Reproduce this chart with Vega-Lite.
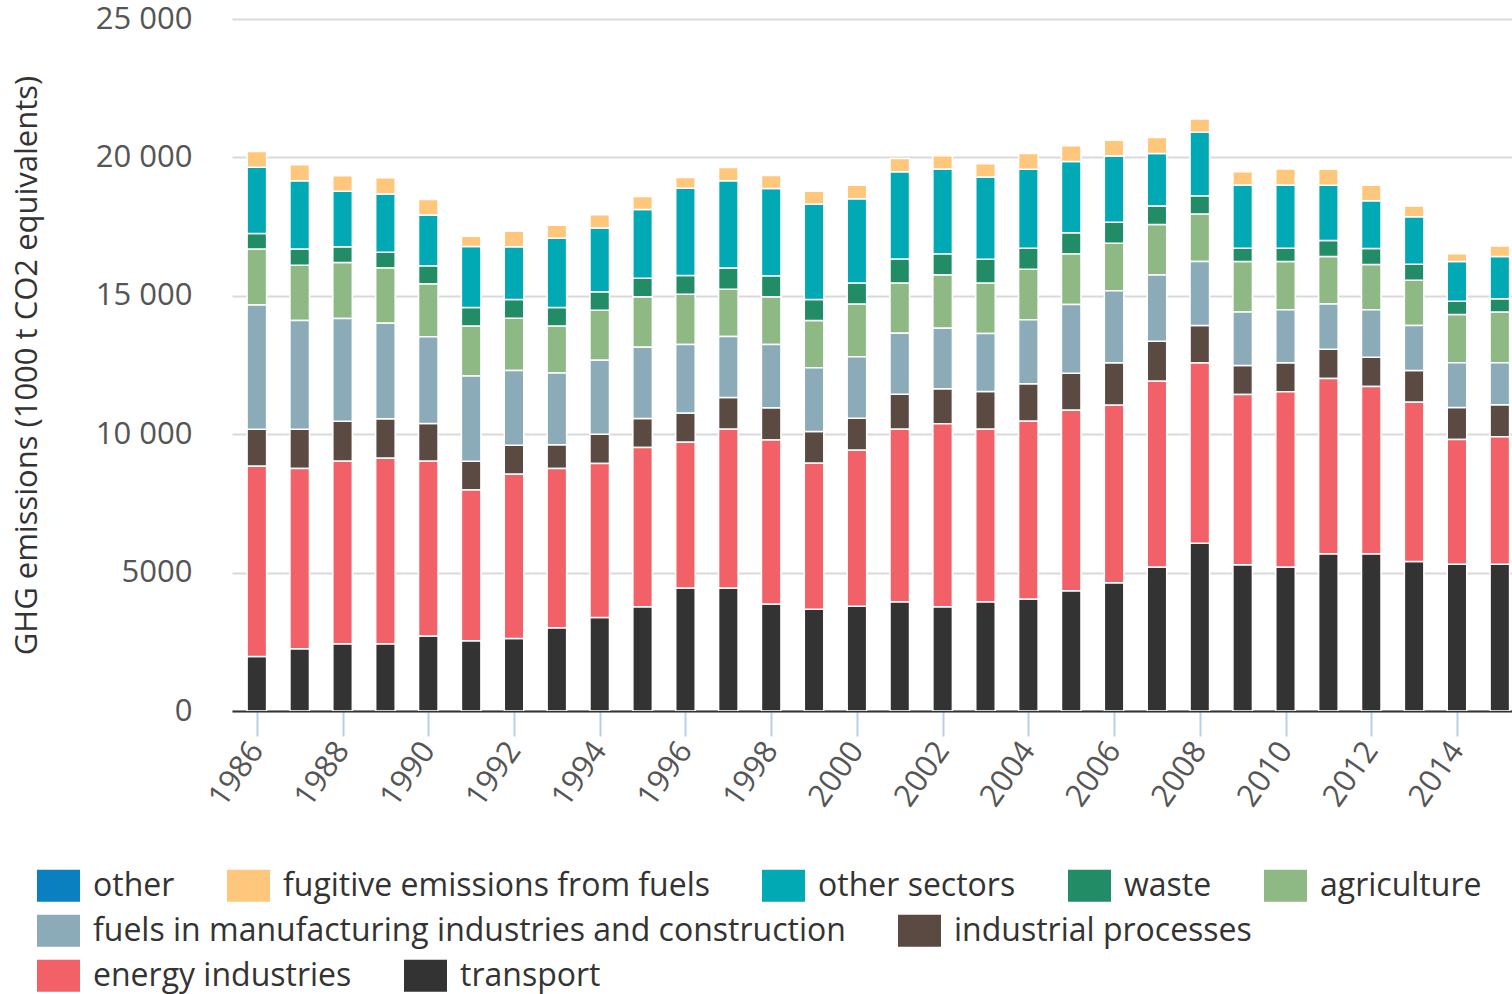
{
"$schema": "https://vega.github.io/schema/vega-lite/v6.json",
"width": 1280,
"height": 692,
"autosize": {"type": "none"},
"padding": {"left": 232, "top": 19, "right": 0, "bottom": 283},
"config": {
  "font": "Open Sans",
  "view": {"stroke": null},
  "legend": {
    "labelFont": "Open Sans", "labelFontSize": 32, "labelColor": "#333333", "labelLimit": 1000,
    "symbolType": "M-1,-0.74L1,-0.74L1,0.74L-1,0.74Z", "symbolSize": 1849, "symbolStrokeWidth": 0, "symbolOpacity": 1,
    "labelOffset": 13, "columnPadding": 52, "direction": "horizontal", "orient": "none", "padding": 0
  }
},
"data": {"values": [
{"year":1986,"sector":"transport","value":1970},{"year":1986,"sector":"energy industries","value":6870},{"year":1986,"sector":"industrial processes","value":1340},{"year":1986,"sector":"fuels in manufacturing industries and construction","value":4490},{"year":1986,"sector":"agriculture","value":2020},{"year":1986,"sector":"waste","value":560},{"year":1986,"sector":"other sectors","value":2390},{"year":1986,"sector":"fugitive emissions from fuels","value":570},
{"year":1987,"sector":"transport","value":2250},{"year":1987,"sector":"energy industries","value":6510},{"year":1987,"sector":"industrial processes","value":1420},{"year":1987,"sector":"fuels in manufacturing industries and construction","value":3930},{"year":1987,"sector":"agriculture","value":1990},{"year":1987,"sector":"waste","value":590},{"year":1987,"sector":"other sectors","value":2470},{"year":1987,"sector":"fugitive emissions from fuels","value":575},
{"year":1988,"sector":"transport","value":2430},{"year":1988,"sector":"energy industries","value":6590},{"year":1988,"sector":"industrial processes","value":1445},{"year":1988,"sector":"fuels in manufacturing industries and construction","value":3715},{"year":1988,"sector":"agriculture","value":2020},{"year":1988,"sector":"waste","value":575},{"year":1988,"sector":"other sectors","value":2005},{"year":1988,"sector":"fugitive emissions from fuels","value":560},
{"year":1989,"sector":"transport","value":2430},{"year":1989,"sector":"energy industries","value":6700},{"year":1989,"sector":"industrial processes","value":1430},{"year":1989,"sector":"fuels in manufacturing industries and construction","value":3450},{"year":1989,"sector":"agriculture","value":2005},{"year":1989,"sector":"waste","value":560},{"year":1989,"sector":"other sectors","value":2100},{"year":1989,"sector":"fugitive emissions from fuels","value":590},
{"year":1990,"sector":"transport","value":2710},{"year":1990,"sector":"energy industries","value":6310},{"year":1990,"sector":"industrial processes","value":1365},{"year":1990,"sector":"fuels in manufacturing industries and construction","value":3140},{"year":1990,"sector":"agriculture","value":1910},{"year":1990,"sector":"waste","value":655},{"year":1990,"sector":"other sectors","value":1830},{"year":1990,"sector":"fugitive emissions from fuels","value":560},
{"year":1991,"sector":"transport","value":2540},{"year":1991,"sector":"energy industries","value":5440},{"year":1991,"sector":"industrial processes","value":1045},{"year":1991,"sector":"fuels in manufacturing industries and construction","value":3075},{"year":1991,"sector":"agriculture","value":1805},{"year":1991,"sector":"waste","value":670},{"year":1991,"sector":"other sectors","value":2205},{"year":1991,"sector":"fugitive emissions from fuels","value":375},
{"year":1992,"sector":"transport","value":2620},{"year":1992,"sector":"energy industries","value":5935},{"year":1992,"sector":"industrial processes","value":1045},{"year":1992,"sector":"fuels in manufacturing industries and construction","value":2700},{"year":1992,"sector":"agriculture","value":1885},{"year":1992,"sector":"waste","value":680},{"year":1992,"sector":"other sectors","value":1910},{"year":1992,"sector":"fugitive emissions from fuels","value":560},
{"year":1993,"sector":"transport","value":3010},{"year":1993,"sector":"energy industries","value":5750},{"year":1993,"sector":"industrial processes","value":855},{"year":1993,"sector":"fuels in manufacturing industries and construction","value":2595},{"year":1993,"sector":"agriculture","value":1700},{"year":1993,"sector":"waste","value":670},{"year":1993,"sector":"other sectors","value":2500},{"year":1993,"sector":"fugitive emissions from fuels","value":470},
{"year":1994,"sector":"transport","value":3380},{"year":1994,"sector":"energy industries","value":5560},{"year":1994,"sector":"industrial processes","value":1055},{"year":1994,"sector":"fuels in manufacturing industries and construction","value":2675},{"year":1994,"sector":"agriculture","value":1805},{"year":1994,"sector":"waste","value":670},{"year":1994,"sector":"other sectors","value":2300},{"year":1994,"sector":"fugitive emissions from fuels","value":480},
{"year":1995,"sector":"transport","value":3770},{"year":1995,"sector":"energy industries","value":5750},{"year":1995,"sector":"industrial processes","value":1045},{"year":1995,"sector":"fuels in manufacturing industries and construction","value":2580},{"year":1995,"sector":"agriculture","value":1820},{"year":1995,"sector":"waste","value":670},{"year":1995,"sector":"other sectors","value":2485},{"year":1995,"sector":"fugitive emissions from fuels","value":470},
{"year":1996,"sector":"transport","value":4440},{"year":1996,"sector":"energy industries","value":5270},{"year":1996,"sector":"industrial processes","value":1055},{"year":1996,"sector":"fuels in manufacturing industries and construction","value":2475},{"year":1996,"sector":"agriculture","value":1820},{"year":1996,"sector":"waste","value":670},{"year":1996,"sector":"other sectors","value":3155},{"year":1996,"sector":"fugitive emissions from fuels","value":390},
{"year":1997,"sector":"transport","value":4440},{"year":1997,"sector":"energy industries","value":5735},{"year":1997,"sector":"industrial processes","value":1150},{"year":1997,"sector":"fuels in manufacturing industries and construction","value":2205},{"year":1997,"sector":"agriculture","value":1710},{"year":1997,"sector":"waste","value":760},{"year":1997,"sector":"other sectors","value":3155},{"year":1997,"sector":"fugitive emissions from fuels","value":480},
{"year":1998,"sector":"transport","value":3865},{"year":1998,"sector":"energy industries","value":5925},{"year":1998,"sector":"industrial processes","value":1165},{"year":1998,"sector":"fuels in manufacturing industries and construction","value":2285},{"year":1998,"sector":"agriculture","value":1725},{"year":1998,"sector":"waste","value":760},{"year":1998,"sector":"other sectors","value":3155},{"year":1998,"sector":"fugitive emissions from fuels","value":470},
{"year":1999,"sector":"transport","value":3680},{"year":1999,"sector":"energy industries","value":5270},{"year":1999,"sector":"industrial processes","value":1150},{"year":1999,"sector":"fuels in manufacturing industries and construction","value":2300},{"year":1999,"sector":"agriculture","value":1710},{"year":1999,"sector":"waste","value":760},{"year":1999,"sector":"other sectors","value":3435},{"year":1999,"sector":"fugitive emissions from fuels","value":470},
{"year":2000,"sector":"transport","value":3780},{"year":2000,"sector":"energy industries","value":5640},{"year":2000,"sector":"industrial processes","value":1155},{"year":2000,"sector":"fuels in manufacturing industries and construction","value":2225},{"year":2000,"sector":"agriculture","value":1905},{"year":2000,"sector":"waste","value":760},{"year":2000,"sector":"other sectors","value":3045},{"year":2000,"sector":"fugitive emissions from fuels","value":480},
{"year":2001,"sector":"transport","value":3945},{"year":2001,"sector":"energy industries","value":6230},{"year":2001,"sector":"industrial processes","value":1270},{"year":2001,"sector":"fuels in manufacturing industries and construction","value":2200},{"year":2001,"sector":"agriculture","value":1820},{"year":2001,"sector":"waste","value":860},{"year":2001,"sector":"other sectors","value":3155},{"year":2001,"sector":"fugitive emissions from fuels","value":480},
{"year":2002,"sector":"transport","value":3765},{"year":2002,"sector":"energy industries","value":6610},{"year":2002,"sector":"industrial processes","value":1270},{"year":2002,"sector":"fuels in manufacturing industries and construction","value":2185},{"year":2002,"sector":"agriculture","value":1930},{"year":2002,"sector":"waste","value":760},{"year":2002,"sector":"other sectors","value":3060},{"year":2002,"sector":"fugitive emissions from fuels","value":480},
{"year":2003,"sector":"transport","value":3945},{"year":2003,"sector":"energy industries","value":6230},{"year":2003,"sector":"industrial processes","value":1365},{"year":2003,"sector":"fuels in manufacturing industries and construction","value":2100},{"year":2003,"sector":"agriculture","value":1820},{"year":2003,"sector":"waste","value":860},{"year":2003,"sector":"other sectors","value":2975},{"year":2003,"sector":"fugitive emissions from fuels","value":480},
{"year":2004,"sector":"transport","value":4045},{"year":2004,"sector":"energy industries","value":6425},{"year":2004,"sector":"industrial processes","value":1355},{"year":2004,"sector":"fuels in manufacturing industries and construction","value":2310},{"year":2004,"sector":"agriculture","value":1820},{"year":2004,"sector":"waste","value":760},{"year":2004,"sector":"other sectors","value":2860},{"year":2004,"sector":"fugitive emissions from fuels","value":565},
{"year":2005,"sector":"transport","value":4340},{"year":2005,"sector":"energy industries","value":6525},{"year":2005,"sector":"industrial processes","value":1340},{"year":2005,"sector":"fuels in manufacturing industries and construction","value":2480},{"year":2005,"sector":"agriculture","value":1830},{"year":2005,"sector":"waste","value":760},{"year":2005,"sector":"other sectors","value":2580},{"year":2005,"sector":"fugitive emissions from fuels","value":565},
{"year":2006,"sector":"transport","value":4635},{"year":2006,"sector":"energy industries","value":6415},{"year":2006,"sector":"industrial processes","value":1535},{"year":2006,"sector":"fuels in manufacturing industries and construction","value":2595},{"year":2006,"sector":"agriculture","value":1720},{"year":2006,"sector":"waste","value":760},{"year":2006,"sector":"other sectors","value":2395},{"year":2006,"sector":"fugitive emissions from fuels","value":565},
{"year":2007,"sector":"transport","value":5200},{"year":2007,"sector":"energy industries","value":6710},{"year":2007,"sector":"industrial processes","value":1450},{"year":2007,"sector":"fuels in manufacturing industries and construction","value":2395},{"year":2007,"sector":"agriculture","value":1820},{"year":2007,"sector":"waste","value":665},{"year":2007,"sector":"other sectors","value":1900},{"year":2007,"sector":"fugitive emissions from fuels","value":580},
{"year":2008,"sector":"transport","value":6060},{"year":2008,"sector":"energy industries","value":6510},{"year":2008,"sector":"industrial processes","value":1355},{"year":2008,"sector":"fuels in manufacturing industries and construction","value":2310},{"year":2008,"sector":"agriculture","value":1720},{"year":2008,"sector":"waste","value":660},{"year":2008,"sector":"other sectors","value":2295},{"year":2008,"sector":"fugitive emissions from fuels","value":480},
{"year":2009,"sector":"transport","value":5285},{"year":2009,"sector":"energy industries","value":6145},{"year":2009,"sector":"industrial processes","value":1055},{"year":2009,"sector":"fuels in manufacturing industries and construction","value":1930},{"year":2009,"sector":"agriculture","value":1820},{"year":2009,"sector":"waste","value":480},{"year":2009,"sector":"other sectors","value":2285},{"year":2009,"sector":"fugitive emissions from fuels","value":480},
{"year":2010,"sector":"transport","value":5200},{"year":2010,"sector":"energy industries","value":6330},{"year":2010,"sector":"industrial processes","value":1055},{"year":2010,"sector":"fuels in manufacturing industries and construction","value":1915},{"year":2010,"sector":"agriculture","value":1735},{"year":2010,"sector":"waste","value":480},{"year":2010,"sector":"other sectors","value":2285},{"year":2010,"sector":"fugitive emissions from fuels","value":580},
{"year":2011,"sector":"transport","value":5680},{"year":2011,"sector":"energy industries","value":6330},{"year":2011,"sector":"industrial processes","value":1055},{"year":2011,"sector":"fuels in manufacturing industries and construction","value":1635},{"year":2011,"sector":"agriculture","value":1720},{"year":2011,"sector":"waste","value":575},{"year":2011,"sector":"other sectors","value":2000},{"year":2011,"sector":"fugitive emissions from fuels","value":580},
{"year":2012,"sector":"transport","value":5680},{"year":2012,"sector":"energy industries","value":6045},{"year":2012,"sector":"industrial processes","value":1055},{"year":2012,"sector":"fuels in manufacturing industries and construction","value":1720},{"year":2012,"sector":"agriculture","value":1635},{"year":2012,"sector":"waste","value":575},{"year":2012,"sector":"other sectors","value":1720},{"year":2012,"sector":"fugitive emissions from fuels","value":565},
{"year":2013,"sector":"transport","value":5400},{"year":2013,"sector":"energy industries","value":5750},{"year":2013,"sector":"industrial processes","value":1155},{"year":2013,"sector":"fuels in manufacturing industries and construction","value":1620},{"year":2013,"sector":"agriculture","value":1635},{"year":2013,"sector":"waste","value":580},{"year":2013,"sector":"other sectors","value":1720},{"year":2013,"sector":"fugitive emissions from fuels","value":380},
{"year":2014,"sector":"transport","value":5300},{"year":2014,"sector":"energy industries","value":4510},{"year":2014,"sector":"industrial processes","value":1155},{"year":2014,"sector":"fuels in manufacturing industries and construction","value":1620},{"year":2014,"sector":"agriculture","value":1735},{"year":2014,"sector":"waste","value":480},{"year":2014,"sector":"other sectors","value":1435},{"year":2014,"sector":"fugitive emissions from fuels","value":280},
{"year":2015,"sector":"transport","value":5300},{"year":2015,"sector":"energy industries","value":4610},{"year":2015,"sector":"industrial processes","value":1155},{"year":2015,"sector":"fuels in manufacturing industries and construction","value":1520},{"year":2015,"sector":"agriculture","value":1830},{"year":2015,"sector":"waste","value":480},{"year":2015,"sector":"other sectors","value":1525},{"year":2015,"sector":"fugitive emissions from fuels","value":380}
]},
"transform": [
  {"calculate": "indexof(['transport','energy industries','industrial processes','fuels in manufacturing industries and construction','agriculture','waste','other sectors','fugitive emissions from fuels','other'], datum.sector)", "as": "ord"},
  {"stack": "value", "groupby": ["year"], "sort": [{"field": "ord", "order": "ascending"}], "as": ["v0", "v1"]}
],
"encoding": {
  "x": {"field": "year", "type": "quantitative",
    "scale": {"domain": [1985.537, 2015.167], "nice": false, "zero": false},
    "axis": {"title": null, "values": [1986,1988,1990,1992,1994,1996,1998,2000,2002,2004,2006,2008,2010,2012,2014], "format": "d",
      "labelAngle": -55, "labelFontSize": 31, "labelFont": "Open Sans", "labelColor": "#555555", "labelPadding": 9,
      "labelOverlap": false, "labelBound": false, "labelFlush": false,
      "tickColor": "#b9cfe3", "tickSize": 25, "tickWidth": 2,
      "domainColor": "#333333", "domainWidth": 2, "grid": false}},
  "y": {"field": "v1", "type": "quantitative",
    "scale": {"domain": [0, 25000], "nice": false},
    "axis": {"title": "GHG emissions (1000 t CO2 equivalents)", "titleFont": "Open Sans", "titleFontSize": 31, "titleFontWeight": "normal", "titleColor": "#333333", "titlePadding": 52, "titleLimit": 1000,
      "values": [0,5000,10000,15000,20000,25000],
      "labelExpr": "datum.value >= 10000 ? replace(format(datum.value, ','), ',', ' ') : format(datum.value, 'd')",
      "labelFontSize": 31, "labelFont": "Open Sans", "labelColor": "#555555", "labelPadding": 40,
      "ticks": false, "tickSize": 0, "domain": false,
      "grid": true, "gridColor": "#d9d9d9", "gridWidth": 2}},
  "y2": {"field": "v0"}
},
"layer": [
  {"transform": [{"filter": {"field": "sector", "oneOf": ["other","fugitive emissions from fuels","other sectors","waste","agriculture"]}}],
   "mark": {"type": "bar", "size": 19.5, "stroke": "white", "strokeWidth": 1.5, "clip": true},
   "encoding": {"color": {"field": "sector", "type": "nominal",
     "scale": {"domain": ["other","fugitive emissions from fuels","other sectors","waste","agriculture"], "range": ["#0a80c0","#fec77b","#00a9b4","#218c65","#8eb985"]},
     "legend": {"title": null, "orient": "none", "legendX": -195, "legendY": 845, "direction": "horizontal"}}}},
  {"transform": [{"filter": {"field": "sector", "oneOf": ["fuels in manufacturing industries and construction","industrial processes"]}}],
   "mark": {"type": "bar", "size": 19.5, "stroke": "white", "strokeWidth": 1.5, "clip": true},
   "encoding": {"color": {"field": "sector", "type": "nominal",
     "scale": {"domain": ["fuels in manufacturing industries and construction","industrial processes"], "range": ["#8aabb7","#5b4a41"]},
     "legend": {"title": null, "orient": "none", "legendX": -195, "legendY": 890, "direction": "horizontal"}}}},
  {"transform": [{"filter": {"field": "sector", "oneOf": ["energy industries","transport"]}}],
   "mark": {"type": "bar", "size": 19.5, "stroke": "white", "strokeWidth": 1.5, "clip": true},
   "encoding": {"color": {"field": "sector", "type": "nominal",
     "scale": {"domain": ["energy industries","transport"], "range": ["#f26168","#333333"]},
     "legend": {"title": null, "orient": "none", "legendX": -195, "legendY": 935, "direction": "horizontal"}}}}
],
"resolve": {"scale": {"color": "independent"}, "legend": {"color": "independent"}}
}
